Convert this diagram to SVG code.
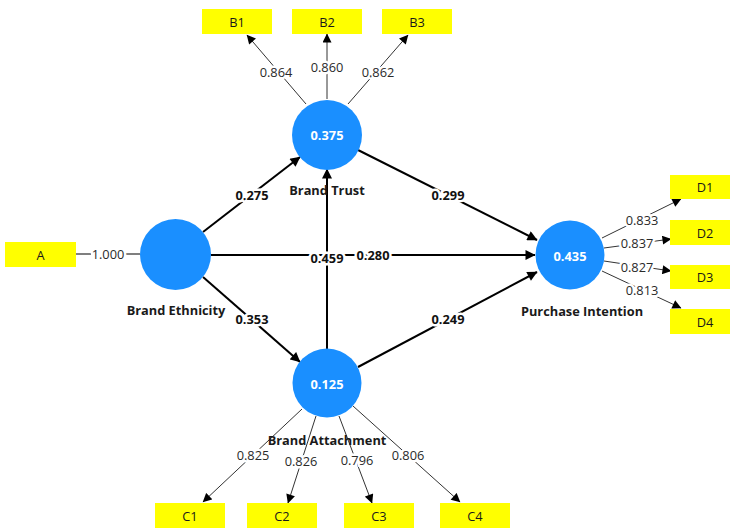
<svg xmlns="http://www.w3.org/2000/svg" width="730" height="528" viewBox="0 0 730 528">
<defs>
<marker id="ah" viewBox="0 0 10 10" refX="9.5" refY="5" markerWidth="11" markerHeight="10" markerUnits="userSpaceOnUse" orient="auto"><path d="M0,0 L10,5 L0,10 z" fill="#000"/></marker>
<marker id="ahs" viewBox="0 0 10 10" refX="9.5" refY="5" markerWidth="10" markerHeight="9" markerUnits="userSpaceOnUse" orient="auto"><path d="M0,0 L10,5 L0,10 z" fill="#000"/></marker>
<style>
.path{stroke:#000;stroke-width:2;fill:none;marker-end:url(#ah)}
.load{stroke:#333;stroke-width:1;fill:none;marker-end:url(#ahs)}
.plain{stroke:#555;stroke-width:1.3;fill:none}
.pl{font-family:"Open Sans",sans-serif;font-size:12.8px;font-weight:bold;fill:#111;text-anchor:middle;dominant-baseline:central;stroke:#fff;stroke-width:5;paint-order:stroke;stroke-linejoin:round}
.ll{font-family:"Open Sans",sans-serif;font-size:12.8px;fill:#2a2a2a;text-anchor:middle;dominant-baseline:central;stroke:#fff;stroke-width:5;paint-order:stroke;stroke-linejoin:round}
.lv{fill:#1A8FFF}
.val{font-family:"Open Sans",sans-serif;font-size:12.8px;font-weight:bold;fill:#fff;text-anchor:middle;dominant-baseline:central}
.name{font-family:"Open Sans",sans-serif;font-size:12.8px;font-weight:bold;fill:#1a1a1a;text-anchor:middle;dominant-baseline:central}
.box{fill:#FFFF00}
.bt{font-family:"Open Sans",sans-serif;font-size:12.8px;fill:#1a1a1a;text-anchor:middle;dominant-baseline:central}
</style>
</defs>
<rect width="730" height="528" fill="#fff"/>
<g id="connectors">
<line class="plain" x1="76" y1="254" x2="140" y2="254"/>
<rect x="91" y="246" width="34" height="16" fill="#fff"/>
<text class="ll" x="108" y="254">1.000</text>
<line class="load" x1="306" y1="104" x2="247" y2="35"/>
<line class="load" x1="327" y1="99" x2="327" y2="34"/>
<line class="load" x1="348" y1="104" x2="408" y2="35"/>
<text class="ll" x="276" y="72">0.864</text>
<text class="ll" x="327" y="67">0.860</text>
<text class="ll" x="378" y="72">0.862</text>
<line class="load" x1="602" y1="238" x2="681" y2="199"/>
<line class="load" x1="604" y1="248" x2="671" y2="239"/>
<line class="load" x1="604" y1="261" x2="671" y2="271"/>
<line class="load" x1="602" y1="271" x2="681" y2="308"/>
<text class="ll" x="642" y="220">0.833</text>
<text class="ll" x="637" y="243">0.837</text>
<text class="ll" x="637" y="267">0.827</text>
<text class="ll" x="642" y="290">0.813</text>
<line class="load" x1="302" y1="409" x2="203" y2="502"/>
<line class="load" x1="316" y1="416" x2="288" y2="503"/>
<line class="load" x1="339" y1="416" x2="372" y2="503"/>
<line class="load" x1="353" y1="406" x2="460" y2="502"/>
<text class="ll" x="253" y="455">0.825</text>
<text class="ll" x="301" y="461">0.826</text>
<text class="ll" x="357" y="460">0.796</text>
<text class="ll" x="408" y="455">0.806</text>
<line class="path" x1="203" y1="232" x2="300" y2="157"/>
<line class="path" x1="203" y1="277" x2="300" y2="362"/>
<line class="path" x1="211" y1="255" x2="535" y2="255"/>
<line class="path" x1="327" y1="349" x2="327" y2="169"/>
<line class="path" x1="358" y1="150" x2="537" y2="240"/>
<line class="path" x1="358" y1="367" x2="537" y2="272"/>
<text class="pl" x="252" y="195">0.275</text>
<text class="pl" x="252" y="319">0.353</text>
<text class="pl" x="373" y="255">0.280</text>
<text class="pl" x="327" y="258">0.459</text>
<text class="pl" x="448" y="195">0.299</text>
<text class="pl" x="448" y="319">0.249</text>
</g>
<g id="node-A"><rect class="box" x="5" y="242" width="71" height="25"/><text class="bt" x="40.5" y="254.5">A</text></g>
<g id="node-B1"><rect class="box" x="202" y="9" width="70" height="25"/><text class="bt" x="237" y="21.5">B1</text></g>
<g id="node-B2"><rect class="box" x="292" y="9" width="70" height="25"/><text class="bt" x="327" y="21.5">B2</text></g>
<g id="node-B3"><rect class="box" x="382" y="9" width="70" height="25"/><text class="bt" x="417" y="21.5">B3</text></g>
<g id="node-D1"><rect class="box" x="670" y="175" width="70" height="24"/><text class="bt" x="705" y="187">D1</text></g>
<g id="node-D2"><rect class="box" x="670" y="220" width="70" height="25"/><text class="bt" x="705" y="232.5">D2</text></g>
<g id="node-D3"><rect class="box" x="670" y="265" width="70" height="24"/><text class="bt" x="705" y="277">D3</text></g>
<g id="node-D4"><rect class="box" x="670" y="309" width="70" height="25"/><text class="bt" x="705" y="321.5">D4</text></g>
<g id="node-C1"><rect class="box" x="155" y="503" width="70" height="25"/><text class="bt" x="190" y="515.5">C1</text></g>
<g id="node-C2"><rect class="box" x="247" y="503" width="70" height="25"/><text class="bt" x="282" y="515.5">C2</text></g>
<g id="node-C3"><rect class="box" x="344" y="503" width="70" height="25"/><text class="bt" x="379" y="515.5">C3</text></g>
<g id="node-C4"><rect class="box" x="440" y="503" width="70" height="25"/><text class="bt" x="475" y="515.5">C4</text></g>
<g id="node-brand-ethnicity"><circle class="lv" cx="175.5" cy="254.5" r="35.5"/><text class="name" x="176" y="310">Brand Ethnicity</text></g>
<g id="node-brand-trust"><circle class="lv" cx="327" cy="135" r="35"/><text class="val" x="327" y="135">0.375</text><text class="name" x="327" y="190">Brand Trust</text></g>
<g id="node-brand-attachment"><circle class="lv" cx="327" cy="383" r="34.5"/><text class="val" x="327" y="384">0.125</text><text class="name" x="327" y="440">Brand Attachment</text></g>
<g id="node-purchase-intention"><circle class="lv" cx="570" cy="255" r="34.5"/><text class="val" x="570" y="256">0.435</text><text class="name" x="582" y="311">Purchase Intention</text></g>
</svg>
